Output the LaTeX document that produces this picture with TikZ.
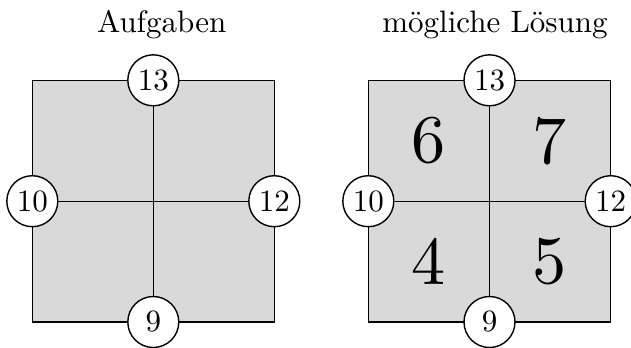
\documentclass[tikz,border=0pt]{standalone}
\usepackage{graphicx}
\begin{document}
\begin{tikzpicture}[x=0.32258pt,y=-0.32258pt,
  sq/.style={draw,fill=black!15,line width=0.45pt},
  num/.style={circle,draw,fill=white,minimum size=16.45pt,inner sep=0pt,line width=0.45pt},
  big/.style={inner sep=0pt},
  ttl/.style={anchor=base,inner sep=0pt}]
\useasboundingbox (0,0) rectangle (631,347);
% left
\node[ttl] (t1) at (161.7,32.3) {Aufgaben};
\draw[sq] (32.3,80.3) rectangle (274.3,322);
\node[num] (a13) at (153.3,80.3) {13};
\node[num] (a9) at (153.3,322) {9};
\node[num] (a10) at (32.3,201.2) {10};
\node[num] (a12) at (274.3,201.2) {12};
\draw[line width=0.45pt] (a13) -- (a9);
\draw[line width=0.45pt] (a10) -- (a12);
% right
\node[ttl] (t2) at (495,32.3) {mögliche Lösung};
\draw[sq] (368.3,80.3) rectangle (610.7,322);
\node[num] (b13) at (489.5,80.3) {13};
\node[num] (b9) at (489.5,322) {9};
\node[num] (b10) at (368.3,201.2) {10};
\node[num] (b12) at (610.7,201.2) {12};
\draw[line width=0.45pt] (b13) -- (b9);
\draw[line width=0.45pt] (b10) -- (b12);
\node[big] (q6) at (429,140.8) {\scalebox{2.2}{6}};
\node[big] (q7) at (550,140.8) {\scalebox{2.2}{7}};
\node[big] (q4) at (429,261.5) {\scalebox{2.2}{4}};
\node[big] (q5) at (550,261.5) {\scalebox{2.2}{5}};
\end{tikzpicture}
\end{document}
